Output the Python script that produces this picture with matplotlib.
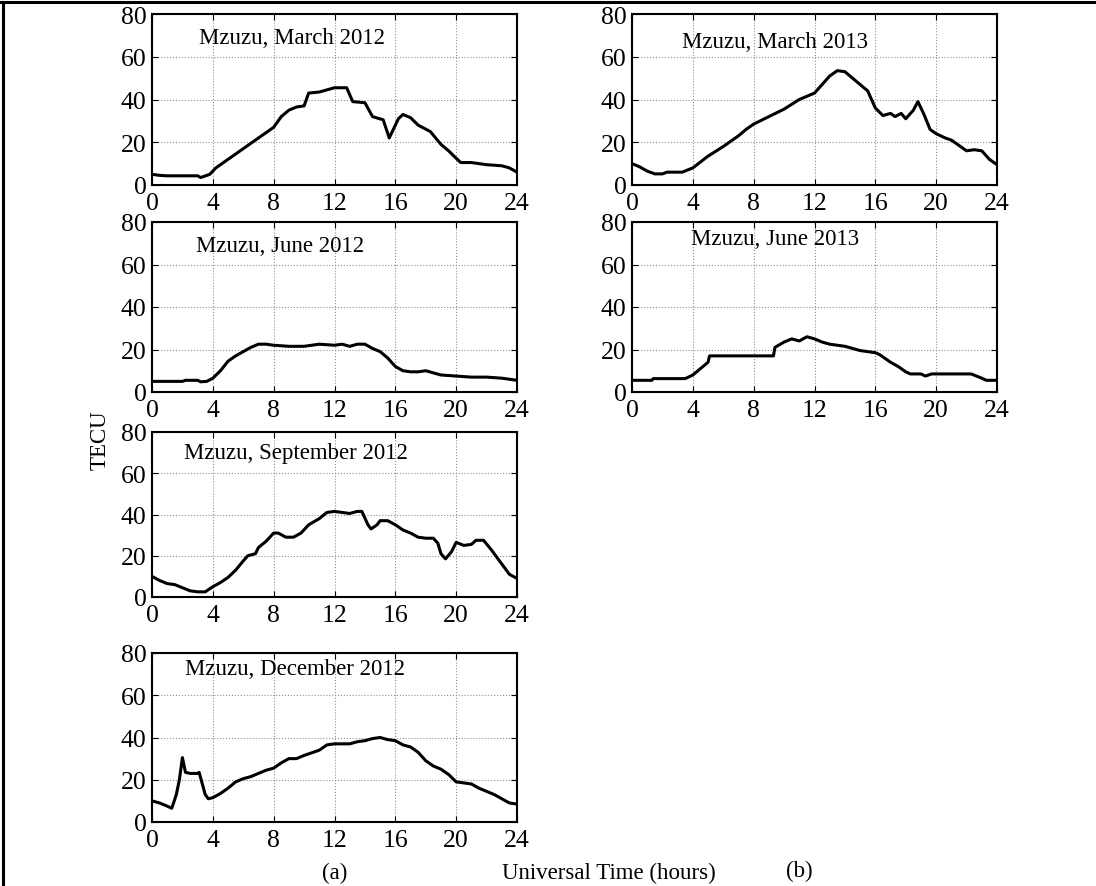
import numpy as np
import matplotlib
matplotlib.use("Agg")
import matplotlib.pyplot as plt
from matplotlib.lines import Line2D

plt.rcParams.update({
    "font.family": ["Liberation Serif", "DejaVu Serif"],
    "font.size": 17,
    "xtick.direction": "in",
    "ytick.direction": "in",
    "xtick.top": True,
    "ytick.right": True,
    "xtick.major.size": 4,
    "ytick.major.size": 4,
    "axes.linewidth": 1.5,
})

# ---- data (hours UT, TECU) ----
mar12_t = [0, 0.5, 1, 3, 3.2, 3.8, 4.2, 5, 6, 7, 7.5, 8, 8.5, 9, 9.5, 10, 10.3, 11, 11.5, 12,
           12.8, 13.2, 14, 14.5, 15.2, 15.6, 16.2, 16.5, 17, 17.5, 18.3, 19, 19.5, 20, 20.3,
           21, 22, 23, 23.5, 24]
mar12_v = [5, 4.5, 4.3, 4.3, 3.5, 5, 8, 12, 17, 22, 24.5, 27, 32, 35, 36.5, 37, 43, 43.5, 44.5, 45.5,
           45.5, 39, 38.5, 32, 30.5, 22, 31, 33, 31.5, 28, 25, 19, 16, 12.5, 10.5,
           10.5, 9.5, 9, 8, 6]

mar13_t = [0, 0.5, 1, 1.5, 2, 2.3, 3.3, 4, 5, 6, 7, 7.5, 8, 9, 10, 11, 12, 12.5, 13, 13.5, 14,
           14.5, 15, 15.5, 16, 16.5, 17, 17.3, 17.7, 18, 18.5, 18.8, 19.2, 19.6, 20, 20.6, 21,
           21.5, 22, 22.5, 23, 23.5, 24]
mar13_v = [10, 8.5, 6.5, 5.2, 5.2, 6, 6, 8, 13.5, 18, 23, 26, 28.5, 32, 35.5, 40, 43, 47, 51, 53.5, 53,
           50, 47, 44, 36, 32.5, 33.5, 32, 33.5, 31, 35, 39, 33, 26, 24, 22, 21,
           18.5, 16, 16.5, 16, 12, 9.5]

jun12_t = [0, 2, 2.2, 3, 3.2, 3.6, 4, 4.5, 5, 5.5, 6, 6.5, 7, 7.5, 8, 9, 10, 11, 12, 12.5, 13,
           13.5, 14, 14.5, 15, 15.5, 16, 16.5, 17, 17.5, 18, 18.5, 19, 20, 21, 22, 23, 24]
jun12_v = [5, 5, 5.5, 5.5, 4.8, 5, 6.5, 10, 14.5, 17, 19, 21, 22.5, 22.5, 22, 21.5, 21.5, 22.5, 22, 22.5, 21.5,
           22.5, 22.5, 20.5, 19, 16, 12, 10, 9.5, 9.5, 10, 9, 8, 7.5, 7, 7, 6.5, 5.5]

jun13_t = [0, 1.3, 1.4, 3.5, 4, 4.5, 5, 5.1, 9.3, 9.4, 10, 10.5, 11, 11.5, 12, 12.5, 13, 14, 14.5,
           15, 16, 16.3, 17, 17.5, 18, 18.3, 19, 19.3, 19.7, 21, 22.3, 23, 23.3, 24]
jun13_v = [5.5, 5.5, 6.3, 6.3, 8, 11, 14, 17, 17, 21, 23.5, 25, 24, 26, 25, 23.5, 22.5, 21.5, 20.5,
           19.5, 18.5, 17.5, 14, 12, 9.5, 8.5, 8.5, 7.5, 8.5, 8.5, 8.5, 6.5, 5.5, 5.5]

sep12_t = [0, 0.5, 1, 1.5, 2, 2.5, 3, 3.5, 4, 4.5, 5, 5.5, 6, 6.3, 6.8, 7, 7.5, 8, 8.3, 8.8, 9.3,
           9.8, 10.3, 11, 11.5, 12, 12.5, 13, 13.5, 13.8, 14.2, 14.4, 14.8, 15, 15.5, 16, 16.5,
           17, 17.5, 18, 18.5, 18.8, 19, 19.3, 19.7, 20, 20.5, 21, 21.3, 21.8, 22.3, 23, 23.5, 24]
sep12_v = [10, 8, 6.5, 6, 4.5, 3, 2.5, 2.5, 5, 7, 9.5, 13, 17.5, 20, 21, 24, 27, 31, 31, 29, 29,
           31, 35, 38, 41, 41.5, 41, 40.5, 41.5, 41.5, 35, 33, 35, 37, 37, 35, 32.5,
           31, 29, 28.5, 28.5, 26, 21, 18.5, 22, 26.5, 25, 25.5, 27.5, 27.5, 23, 16, 11, 9]

dec12_t = [0, 0.5, 1, 1.3, 1.6, 1.8, 2, 2.2, 2.5, 3, 3.1, 3.5, 3.7, 4, 4.5, 5, 5.5, 6, 6.5, 7,
           7.5, 8, 8.5, 9, 9.5, 10, 11, 11.5, 12, 13, 13.5, 14, 14.5, 15, 15.5, 16, 16.5, 17,
           17.5, 18, 18.5, 19, 19.5, 20, 20.5, 21, 21.5, 22, 22.5, 23, 23.5, 24]
dec12_v = [10, 9, 7.5, 6.5, 13, 20, 30.5, 23.5, 23, 23, 23.5, 13, 11, 11.5, 13.5, 16, 19, 20.5, 21.5, 23,
           24.5, 25.5, 28, 30, 30, 31.5, 34, 36.5, 37, 37, 38, 38.5, 39.5, 40, 39, 38.5, 36.5, 35.5,
           33, 29, 26.5, 25, 22.5, 19, 18.5, 18, 16, 14.5, 13, 11, 9, 8.5]

titles = ["Mzuzu, March 2012", "Mzuzu, June 2012", "Mzuzu, September 2012", "Mzuzu, December 2012",
          "Mzuzu, March 2013", "Mzuzu, June 2013"]
title_pos = [(3.1, 68.8), (2.9, 68.8), (2.1, 70), (2.2, 72.5), (3.3, 67), (3.9, 72)]
series = [(mar12_t, mar12_v), (jun12_t, jun12_v), (sep12_t, sep12_v), (dec12_t, dec12_v),
          (mar13_t, mar13_v), (jun13_t, jun13_v)]

# ---- layout in pixels (left, right, top, bottom) ----
W, H = 1096, 887
cols = [(152, 517), (632, 997)]
rows = [(15, 186), (223, 393), (433, 598), (654, 823)]
slots = [(0, 0), (0, 1), (0, 2), (0, 3), (1, 0), (1, 1)]

fig = plt.figure(figsize=(W / 100, H / 100), dpi=100)

for (c, r), (t, v), ttl, (tx, ty) in zip(slots, series, titles, title_pos):
    x0, x1 = cols[c]
    y0, y1 = rows[r]
    ax = fig.add_axes([x0 / W, 1 - y1 / H, (x1 - x0) / W, (y1 - y0) / H])
    ax.plot(t, v, color="black", lw=2.2)
    ax.set_xlim(0, 24)
    ax.set_ylim(0, 80)
    ax.set_xticks(np.arange(0, 25, 4))
    ax.set_yticks(np.arange(0, 81, 20))
    ax.grid(True, color="#909090", linestyle=":", linewidth=0.8)
    ax.tick_params(axis="x", labelsize=18.5, pad=5)
    ax.tick_params(axis="y", labelsize=18.5, pad=4)
    ax.text(tx, ty, ttl, fontsize=16.5, va="center", ha="left")

fig.text(100 / W, 1 - 440 / H, "TECU", rotation=90, ha="center", va="center", fontsize=16.5)
fig.text(609 / W, 1 - 873 / H, "Universal Time (hours)", ha="center", va="center", fontsize=16.5)
fig.text(335 / W, 1 - 873 / H, "(a)", ha="center", va="center", fontsize=16.5)
fig.text(799 / W, 1 - 871 / H, "(b)", ha="center", va="center", fontsize=16.5)

# frame lines on the top and left edge
fig.add_artist(Line2D([0, 1], [1 - 3 / H, 1 - 3 / H], color="black", lw=2.2))
fig.add_artist(Line2D([3 / W, 3 / W], [0, 1 - 3 / H], color="black", lw=2.2))

fig.savefig("out.png", dpi=100)
